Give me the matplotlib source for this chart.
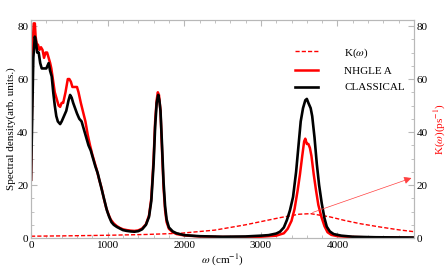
import numpy as np
import matplotlib
matplotlib.use("Agg")
import matplotlib.pyplot as plt
from matplotlib.ticker import MultipleLocator

plt.rcParams["font.family"] = ["Liberation Serif", "DejaVu Serif"]
plt.rcParams["mathtext.fontset"] = "stix"

# classical spectrum (black)
w_cl = [0, 15, 30, 50, 65, 80, 100, 120, 140, 170, 200, 230, 250, 270, 290, 310,
        330, 350, 380, 400, 430, 460, 490, 510, 530, 550, 575, 600, 630, 660, 690,
        720, 750, 780, 810, 840, 870, 900, 930, 960, 990, 1020, 1050, 1080, 1120,
        1160, 1200, 1250, 1300, 1350, 1400, 1450, 1500, 1540, 1570, 1600, 1620,
        1640, 1660, 1675, 1690, 1710, 1730, 1750, 1770, 1800, 1850, 1900, 2000,
        2200, 2500, 2800, 3000, 3100, 3200, 3250, 3300, 3340, 3380, 3420, 3460,
        3490, 3520, 3550, 3580, 3600, 3620, 3650, 3670, 3700, 3730, 3760, 3795,
        3830, 3860, 3900, 3950, 4050, 4200, 4500, 5000]
s_cl = [22, 45, 68, 76, 74, 70, 70, 66, 64, 64, 64, 66, 63, 61, 55, 50,
        46, 44, 43, 44, 46, 48, 52, 54, 53, 51, 49, 47, 45, 44, 41,
        38, 35, 33, 30, 27, 24.5, 21, 17.5, 14, 10.5, 8, 6, 5, 4.2,
        3.6, 3.0, 2.7, 2.5, 2.4, 2.6, 3.3, 5, 8, 14, 28, 42,
        51, 54, 52, 48, 35, 21, 12, 7, 4, 2.5, 1.8, 1.1,
        0.7, 0.5, 0.6, 0.9, 1.1, 1.7, 2.4, 4, 6.8, 10.5, 15.5, 25,
        34.5, 44, 49, 52, 52.5, 51, 49, 46, 38, 28, 20, 13,
        7.5, 4.3, 2.5, 1.5, 0.9, 0.5, 0.3, 0.2]

# NHGLE A spectrum (red)
w_gle = [0, 12, 25, 35, 50, 60, 75, 90, 110, 130, 150, 170, 190, 210, 230, 250,
         265, 285, 310, 330, 360, 380, 400, 420, 450, 480, 500, 520, 540, 570,
         600, 620, 650, 680, 710, 740, 770, 800, 830, 860, 890, 920, 950, 980,
         1010, 1040, 1080, 1120, 1160, 1200, 1250, 1300, 1350, 1400, 1450, 1500,
         1540, 1570, 1600, 1620, 1640, 1655, 1670, 1690, 1710, 1730, 1750, 1770,
         1800, 1850, 1900, 2000, 2200, 2500, 2800, 3000, 3200, 3300, 3350, 3400,
         3440, 3480, 3510, 3540, 3565, 3580, 3600, 3620, 3640, 3660, 3690, 3720,
         3750, 3790, 3830, 3870, 3920, 4000, 4200, 4500, 5000]
s_gle = [22, 50, 75, 81, 81, 76, 73, 73, 71, 72, 71, 68, 70, 70, 68, 66,
         64, 60, 55, 53, 50, 49.5, 51, 51, 55, 60, 60, 59, 57, 57,
         57, 55, 51, 47.5, 44, 39, 35, 31.5, 28.5, 25.5, 22, 19, 15, 11.5,
         9, 7, 5.5, 4.5, 3.8, 3.3, 3.0, 2.8, 2.7, 2.9, 3.6, 5.2,
         8.5, 15, 30, 44, 52, 55, 54, 48, 33, 19, 10.5, 6,
         3.5, 2.2, 1.5, 1.0, 0.6, 0.4, 0.4, 0.5, 0.9, 1.8, 3.5, 6.5,
         11, 18, 24, 31, 36.5, 37.5, 35.5, 35.5, 34, 31, 24, 18,
         12.5, 8, 4.5, 2.2, 1.2, 0.7, 0.4, 0.2, 0.1]

# memory kernel K(omega) (dashed red)
w_k = [0, 500, 1000, 1500, 1950, 2400, 2800, 3250, 3500, 3650, 3900, 4100,
       4300, 4550, 4800, 5000]
k_val = [0.7, 0.85, 1.05, 1.35, 1.8, 3.0, 5.0, 7.7, 9.0, 9.2, 8.0, 6.6,
         5.4, 4.2, 3.1, 2.4]

grey = "#b8b8b8"

fig = plt.figure(figsize=(4.47, 2.73), dpi=100)
ax = fig.add_axes([0.0694, 0.128, 0.857, 0.799])

ax.plot(w_k, k_val, color="red", ls=(0, (3, 1.5)), lw=1.0, label=r"K($\omega$)")
ax.plot(w_gle, s_gle, color="red", lw=1.8, label="NHGLE A")
ax.plot(w_cl, s_cl, color="black", lw=1.9, label="CLASSICAL")

# arrow pointing from K(omega) to the right axis
ax.annotate("", xy=(5000, 23), xytext=(3640, 9.3),
            arrowprops=dict(arrowstyle="-|>", color="#ff4040", lw=0.5,
                            mutation_scale=11),
            annotation_clip=False)

ax.set_xlim(0, 5000)
ax.set_ylim(0, 82.3)
ax.set_xticks([0, 1000, 2000, 3000, 4000])
ax.xaxis.set_minor_locator(MultipleLocator(200))
ax.set_yticks([0, 20, 40, 60, 80])
ax.yaxis.set_minor_locator(MultipleLocator(5))

ax2 = ax.twinx()
ax2.set_ylim(0, 82.3)
ax2.set_yticks([0, 20, 40, 60, 80])
ax2.yaxis.set_minor_locator(MultipleLocator(5))

for a in (ax, ax2):
    for sp in a.spines.values():
        sp.set_color(grey)
        sp.set_linewidth(0.8)
    a.tick_params(which="both", direction="in", color=grey, labelsize=8,
                  top=True, pad=2)
    a.tick_params(which="major", length=4)
    a.tick_params(which="minor", length=2)
ax.tick_params(right=False, which="both")

ax.set_xlabel(r"$\omega$ (cm$^{-1}$)", fontsize=8, labelpad=2)
ax.set_ylabel("Spectral density(arb. units.)", fontsize=8, labelpad=1)
ax2.set_ylabel(r"K($\omega$)(ps$^{-1}$)", fontsize=8, color="red", labelpad=3)

ax.legend(loc="upper left", bbox_to_anchor=(0.69, 0.88), frameon=False,
          fontsize=8, handlelength=2.0, handletextpad=2.4, labelspacing=0.6,
          borderpad=0, borderaxespad=0)

fig.savefig("out.png", dpi=100)
